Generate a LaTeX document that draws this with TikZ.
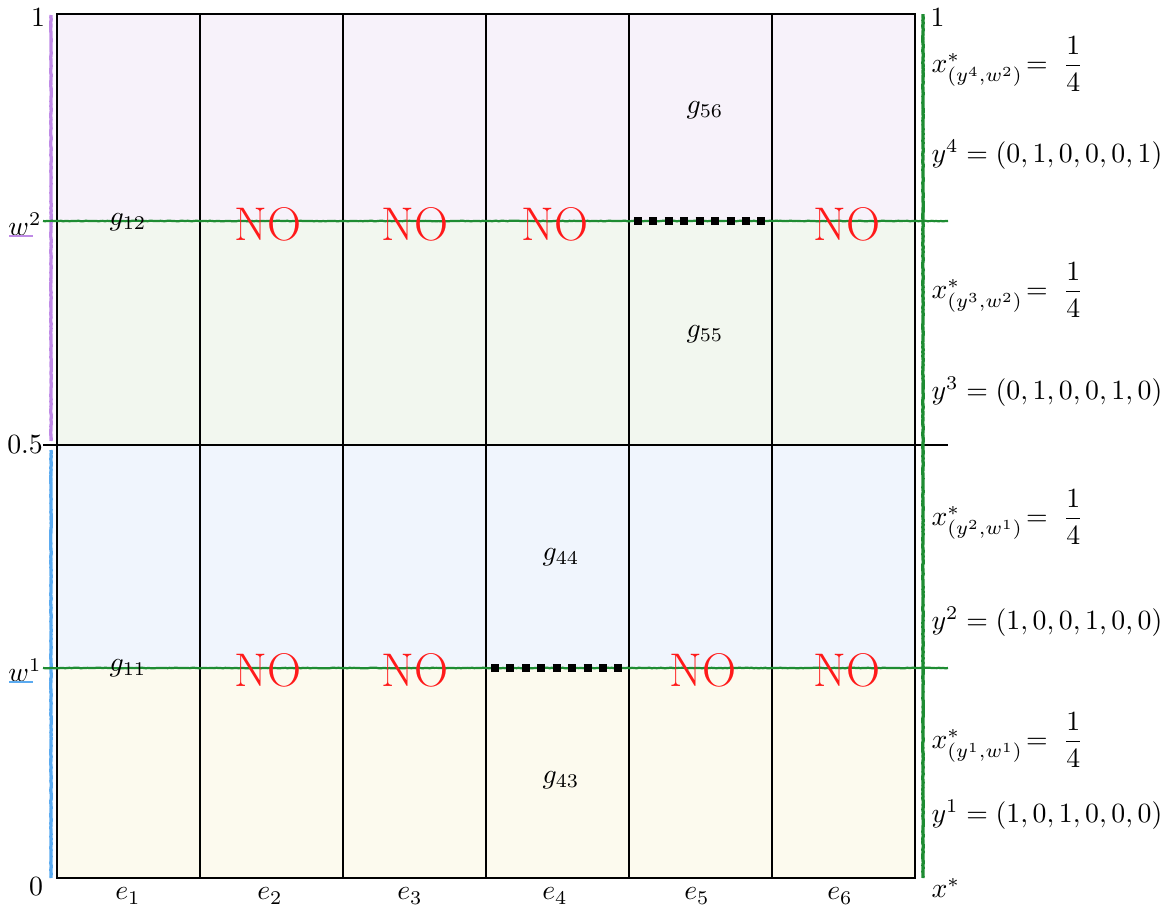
\documentclass[tikz,border=0pt]{standalone}
\usepackage{amsmath}
\usetikzlibrary{decorations.pathmorphing}
\definecolor{bandA}{HTML}{F7F2FA}
\definecolor{bandB}{HTML}{F2F7EF}
\definecolor{bandC}{HTML}{F0F5FD}
\definecolor{bandD}{HTML}{FCFAEE}
\definecolor{pencilpurple}{HTML}{BF8AE6}
\definecolor{pencilblue}{HTML}{5AAAF0}
\definecolor{pencilgreen}{HTML}{1E8C32}
\definecolor{nored}{HTML}{FF1A1A}
\tikzset{
  grid line/.style={black, line width=0.5pt},
  pencil/.style={decorate, decoration={random steps, segment length=0.8pt, amplitude=0.1pt}},
  greenline/.style={pencil, pencilgreen, line width=0.8pt},
  purpleaxis/.style={pencil, pencilpurple, line width=1.2pt},
  blueaxis/.style={pencil, pencilblue, line width=1.2pt},
  squaredots/.style={black, line width=2.9pt, dash pattern=on 2.9pt off 2.65pt},
  nolabel/.style={text=nored, font=\fontsize{17}{19}\selectfont},
  glabel/.style={font=\normalsize},
  rlabel/.style={anchor=west, inner sep=0pt},
}
\begin{document}
\begin{tikzpicture}[x=0.36pt, y=-0.36pt]
\useasboundingbox (0,0) rectangle (1175,911);
% bands
\fill[bandA] (57,14) rectangle (915,221);
\fill[bandB] (57,221) rectangle (915,445);
\fill[bandC] (57,445) rectangle (915,668);
\fill[bandD] (57,668) rectangle (915,878);
% grid
\draw[grid line] (57,14) rectangle (915,878);
\foreach \x in {200,343,486,629,772} \draw[grid line] (\x,14) -- (\x,878);
\coordinate (halfL) at (43,445);
\coordinate (halfR) at (948,445);
\draw[grid line] (halfL) -- (halfR);
% axes (pencil)
\coordinate (pTop) at (51,15);
\coordinate (pBot) at (51,441);
\coordinate (bTop) at (51,450);
\coordinate (bBot) at (51,878);
\draw[purpleaxis] (pTop) -- (pBot);
\draw[blueaxis] (bTop) -- (bBot);
\coordinate (gTop) at (923,14);
\coordinate (gBot) at (923,878);
\draw[greenline, line width=1.2pt] (gTop) -- (gBot);
% green horizontal lines
\coordinate (w2L) at (43,221);
\coordinate (w2R) at (948,221);
\coordinate (w1L) at (43,668);
\coordinate (w1R) at (948,668);
\draw[greenline] (w2L) -- (w2R);
\draw[greenline] (w1L) -- (w1R);
% square dots
\coordinate (d2a) at (634,221);
\coordinate (d2b) at (768,221);
\coordinate (d1a) at (491,668);
\coordinate (d1b) at (625,668);
\draw[squaredots] (d2a) -- (d2b);
\draw[squaredots] (d1a) -- (d1b);
% left labels
\node (l1) at (38,18) {$1$};
\node (lhalf) at (25,445) {$0.5$};
\node (l0) at (36,887) {$0$};
\node (lw2) at (25,224) {$w^2$};
\node (lw1) at (25,670) {$w^1$};
\coordinate (u2a) at (9,236);
\coordinate (u2b) at (33,236);
\coordinate (u1a) at (9,682);
\coordinate (u1b) at (33,682);
\draw[pencilpurple, line width=0.6pt] (u2a) -- (u2b);
\draw[pencilblue, line width=0.6pt] (u1a) -- (u1b);
% bottom labels
\node (e1) at (128,896) {$e_1$};
\node (e2) at (270,896) {$e_2$};
\node (e3) at (410,896) {$e_3$};
\node (e4) at (555,896) {$e_4$};
\node (e5) at (697,896) {$e_5$};
\node (e6) at (840,896) {$e_6$};
% g labels
\node[glabel] (g12) at (128,222) {$g_{12}$};
\node[glabel] (g11) at (128,668) {$g_{11}$};
\node[glabel] (g56) at (705,110) {$g_{56}$};
\node[glabel] (g55) at (705,334) {$g_{55}$};
\node[glabel] (g44) at (561,557) {$g_{44}$};
\node[glabel] (g43) at (561,780) {$g_{43}$};
% NO labels
\node[nolabel] (no22) at (268,224) {NO};
\node[nolabel] (no23) at (415,224) {NO};
\node[nolabel] (no24) at (555,224) {NO};
\node[nolabel] (no26) at (847,224) {NO};
\node[nolabel] (no12) at (268,670) {NO};
\node[nolabel] (no13) at (415,670) {NO};
\node[nolabel] (no15) at (703,670) {NO};
\node[nolabel] (no16) at (847,670) {NO};
% right labels
\node[rlabel] (r1) at (930,18) {$1$};
\node[rlabel] (x4) at (931,64) {$x^*_{(y^4,w^2)}\!=\;\dfrac{1}{4}$};
\node[rlabel] (y4) at (931,155) {$y^4=(0,1,0,0,0,1)$};
\node[rlabel] (x3) at (931,290) {$x^*_{(y^3,w^2)}\!=\;\dfrac{1}{4}$};
\node[rlabel] (y3) at (931,392) {$y^3=(0,1,0,0,1,0)$};
\node[rlabel] (x2) at (931,517) {$x^*_{(y^2,w^1)}\!=\;\dfrac{1}{4}$};
\node[rlabel] (y2) at (931,622) {$y^2=(1,0,0,1,0,0)$};
\node[rlabel] (x1) at (931,740) {$x^*_{(y^1,w^1)}\!=\;\dfrac{1}{4}$};
\node[rlabel] (y1) at (931,815) {$y^1=(1,0,1,0,0,0)$};
\node[rlabel] (xs) at (931,888) {$x^*$};
\end{tikzpicture}
\end{document}
